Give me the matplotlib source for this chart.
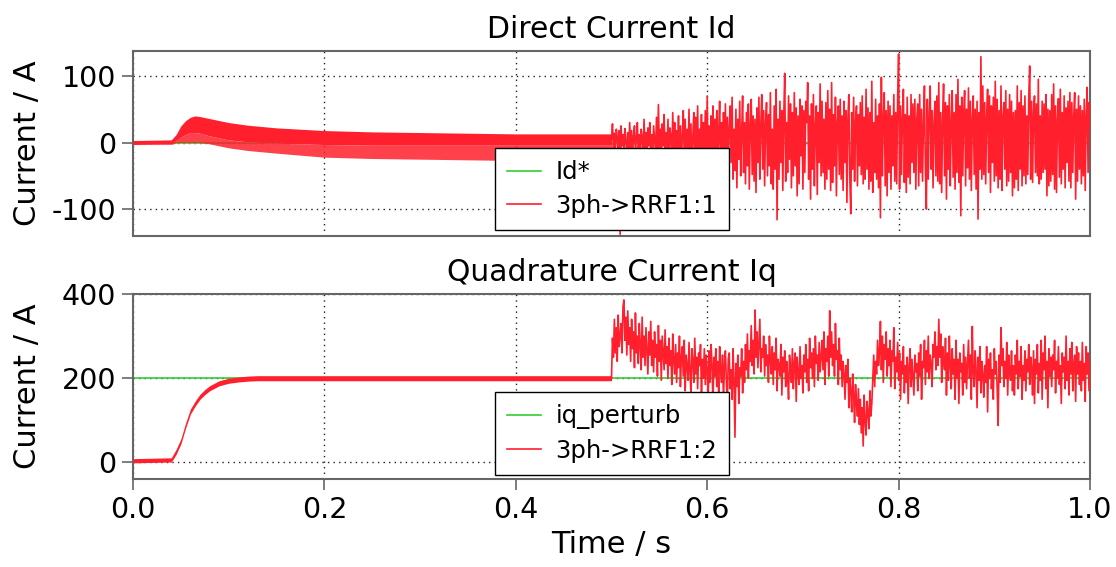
import numpy as np
import matplotlib
matplotlib.use("Agg")
import matplotlib.pyplot as plt

plt.rcParams["axes.unicode_minus"] = False

# ripple envelopes of the currents before the perturbation at t = 0.5 s
t_env_d = [0, 0.04, 0.045, 0.05, 0.055, 0.06, 0.065, 0.07, 0.08, 0.1, 0.12, 0.15, 0.2, 0.25, 0.3, 0.35, 0.4, 0.45, 0.5]
id_upper = [3, 4, 12, 25, 33, 38, 40, 39, 36, 30, 26, 22, 18, 16, 15, 14, 13, 13, 13]
id_mid = [-3, -2, 3, 8, 12, 15, 15, 14, 10, 4, 1, -1, -3, -4, -4, -4, -4, -4, -4]
id_lower = [-3, -3, 0, 0, 0, 0, 0, 0, -2, -8, -12, -16, -22, -24, -25, -26, -27, -27, -27]

t_env_q = [0, 0.04, 0.045, 0.05, 0.055, 0.06, 0.065, 0.07, 0.075, 0.08, 0.09, 0.1, 0.11, 0.12, 0.13, 0.15, 0.5]
iq_upper = [9, 11, 31, 56, 94, 127, 146, 162, 173, 182, 194, 200, 203, 205, 206, 206, 206]
iq_lower = [-1, 1, 19, 44, 82, 115, 134, 150, 161, 170, 182, 188, 191, 193, 194, 194, 194]

# sampled currents after the perturbation, 1 ms step from t = 0.5 s (one row = 10 ms)
id_noisy = [
    5, 28, -10, 14, -18, 20, 8, -12, 18, -138,
    25, -5, 12, -15, 21, 3, -20, 15, -8, 30,
    -12, 18, -22, 10, 25, -15, 5, 30, -20, 12,
    -25, 20, 8, -18, 35, -10, 15, -28, 22, -5,
    30, -20, 12, -32, 25, 5, -15, 38, -25, 57,
    -10, 20, -35, 28, -5, 42, -30, 15, -20, 35,
    -38, 22, 10, -25, 45, -15, 30, -40, 18, -8,
    40, -30, 25, -45, 12, 48, -20, 35, -42, 20,
    -15, 50, -35, 28, -50, 10, 45, -30, 38, -22,
    55, -45, 20, -10, 42, -55, 30, -25, 48, -40,
    70, -35, 25, -50, 40, -15, 55, -60, 35, -28,
    48, -55, 15, 62, -40, 30, -65, 45, -20, 58,
    -45, 38, -60, 25, 55, -30, 68, -55, 20, -42,
    50, -68, 35, -25, 62, -50, 15, 70, -45, 30,
    -62, 45, -35, 58, -70, 28, 65, -48, 40, -58,
    35, -75, 52, -30, 68, -55, 25, 72, -40, 48,
    -65, 30, 60, -50, 42, -35, 75, -62, 20, -70,
    55, -40, 80, -116, 35, -55, 62, -30, 48, -72,
    40, 104, -58, 30, -45, 70, -25, 58, -68, 45,
    -50, 75, -35, 52, -80, 40, -62, 65, -20, 55,
    -70, 48, -45, 62, 30, 90, -55, 40, -85, 58,
    -40, 72, -65, 25, 55, -78, 45, -30, 88, -50,
    62, -45, 35, -70, 60, -55, 78, -40, 50, -72,
    90, -60, 42, -35, 68, -80, 30, 55, -48, 65,
    -55, 40, -72, 62, -30, 48, -90, 35, 72, -50,
    -107, 45, -40, 68, -58, 30, 55, -65, 42, -35,
    60, -48, 70, -62, 38, -55, 80, -40, 52, -70,
    45, -58, 92, -75, 30, -45, 65, -55, 40, -68,
    58, -113, 98, -50, 35, 75, -65, 48, -80, 62,
    -45, 55, -70, 40, -35, 72, -58, 45, -62, 68,
    133, -70, 55, -48, 38, 80, -60, 42, -75, 68,
    -52, 40, -62, 72, -30, 58, -45, 65, -70, 35,
    58, -65, 72, -45, 50, -58, 30, 85, -40, -100,
    65, -55, 40, 85, -40, 48, -68, 30, 62, -50,
    70, -58, 90, -62, 45, -75, 35, 88, -50, 60,
    -85, 55, -40, 72, -65, 30, 78, -52, 45, -70,
    72, -45, 95, -60, 55, -110, 68, -50, 40, 78,
    -65, 50, -38, 82, -55, 62, -72, 35, 70, -48,
    50, -70, 62, -115, 45, -40, 129, -55, 85, -48,
    60, -62, 40, 80, -45, 70, -75, 55, -30, 68,
    -58, 92, -50, 65, -68, 48, -55, 85, -72, 38,
    60, -40, 78, -65, 50, -58, 72, -45, 62, -80,
    45, -68, 48, -55, 85, -72, 60, -40, 78, -65,
    55, -50, 70, -62, 40, -48, 68, 115, -55, 62,
    -60, 45, 70, -45, 58, -50, 95, -62, 40, -55,
    62, -45, 58, -40, 72, -80, 50, -65, 48, -58,
    72, -48, 88, -70, 55, -75, 35, 66, -52, 80,
    -62, 45, -40, 70, -68, 52, -30, 62, -58, 75,
    -68, 60, -45, 40, 75, -85, 50, -58, 70, -40,
    55, -62, 48, -50, 65, -72, 40, 83, -45, 60, 20,
]
iq_noisy = [
    200, 295, 250, 340, 260, 320, 240, 350, 275, 300,
    330, 260, 370, 386, 290, 345, 255, 360, 280, 320,
    240, 340, 270, 310, 225, 355, 260, 300, 235, 330,
    280, 220, 345, 250, 300, 230, 320, 265, 210, 310,
    255, 335, 230, 290, 215, 310, 250, 280, 205, 325,
    240, 290, 195, 300, 260, 220, 315, 235, 275, 200,
    295, 230, 265, 185, 305, 240, 210, 280, 190, 260,
    225, 300, 180, 250, 275, 205, 290, 170, 255, 230,
    195, 285, 215, 165, 270, 240, 190, 295, 210, 250,
    175, 260, 230, 280, 160, 245, 200, 270, 185, 255,
    220, 150, 265, 190, 280, 235, 140, 250, 205, 270,
    180, 240, 160, 275, 215, 190, 255, 145, 230, 265,
    200, 130, 245, 260, 175, 220, 150, 270, 195, 60,
    235, 180, 255, 140, 225, 205, 270, 165, 240, 190,
    280, 220, 305, 200, 265, 240, 325, 230, 290, 210,
    362, 250, 310, 225, 285, 340, 215, 270, 250, 300,
    205, 280, 230, 255, 190, 300, 240, 210, 275, 185,
    260, 220, 295, 170, 245, 230, 205, 280, 160, 250,
    215, 265, 180, 240, 205, 150, 255, 225, 190, 270,
    175, 235, 260, 145, 250, 210, 185, 275, 200, 230,
    165, 255, 215, 280, 190, 245, 170, 295, 225, 260,
    200, 270, 180, 300, 235, 255, 195, 285, 215, 250,
    290, 220, 310, 185, 270, 240, 300, 205, 360, 250,
    310, 230, 280, 205, 330, 245, 265, 185, 295, 220,
    255, 180, 240, 210, 150, 230, 190, 245, 130, 200,
    170, 120, 210, 160, 95, 185, 140, 110, 175, 90,
    150, 70, 130, 39, 160, 100, 65, 145, 120, 80,
    170, 110, 140, 195, 255, 180, 240, 210, 290, 230,
    260, 335, 220, 300, 190, 280, 245, 310, 205, 270,
    230, 290, 180, 265, 240, 320, 175, 250, 215, 285,
    195, 260, 150, 240, 210, 275, 165, 230, 190, 250,
    140, 225, 270, 180, 245, 200, 160, 255, 215, 235,
    170, 260, 205, 280, 150, 240, 225, 290, 185, 265,
    215, 300, 200, 255, 235, 180, 280, 250, 310, 220,
    275, 230, 340, 250, 305, 190, 275, 240, 220, 295,
    160, 260, 195, 300, 230, 175, 270, 210, 245, 150,
    290, 200, 245, 140, 260, 215, 235, 160, 280, 190,
    250, 175, 230, 290, 200, 255, 150, 323, 215, 180,
    265, 220, 130, 250, 195, 275, 165, 240, 210, 155,
    230, 190, 275, 120, 245, 200, 260, 175, 220, 150,
    270, 210, 240, 175, 88, 255, 190, 320, 230, 270,
    180, 240, 200, 285, 160, 255, 215, 195, 265, 170,
    230, 160, 255, 210, 290, 175, 240, 205, 275, 150,
    230, 195, 265, 170, 245, 215, 280, 185, 250, 225,
    160, 265, 140, 245, 210, 280, 165, 235, 195, 290,
    150, 260, 220, 300, 175, 240, 130, 270, 205, 250,
    180, 255, 220, 290, 165, 240, 200, 275, 185, 230,
    140, 260, 215, 250, 175, 300, 195, 240, 160, 270,
    210, 285, 170, 235, 255, 145, 275, 210, 260, 185,
    240, 170, 285, 195, 235, 145, 275, 210, 260, 170, 240,
]

id_ref = 0
iq_ref = 200
x_ticks = [0.0, 0.2, 0.4, 0.6, 0.8, 1.0]

RED = "#ff1f2d"
GREEN = "#33cc33"
SPINE = "#666666"

t_d = np.linspace(0.5, 1.0, len(id_noisy))
t_q = np.linspace(0.5, 1.0, len(iq_noisy))

fig = plt.figure(figsize=(11.16, 5.67), dpi=100)
ax1 = fig.add_axes([0.1192, 0.5843, 0.8575, 0.3263])
ax2 = fig.add_axes([0.1192, 0.1547, 0.8575, 0.3268])


def style_axes(ax, title, ylim, yticks):
    ax.set_xlim(0, 1)
    ax.set_ylim(*ylim)
    ax.set_yticks(yticks)
    ax.set_xticks(x_ticks)
    ax.set_title(title, fontsize=21.5, pad=9)
    ax.set_ylabel("Current / A", fontsize=22)
    ax.yaxis.set_label_coords(-0.095, 0.5)
    ax.grid(True, color="#222222", linestyle=(0, (1, 3)), linewidth=1.0)
    ax.tick_params(axis="both", labelsize=20.5, length=8, width=1.2,
                   color=SPINE, direction="out", pad=4)
    for sp in ax.spines.values():
        sp.set_color(SPINE)
        sp.set_linewidth(1.5)


# direct current
ax1.plot([0, 1], [id_ref, id_ref], color=GREEN, lw=1.2, label="Id*", zorder=2)
ax1.fill_between(t_env_d, id_mid, id_upper, color=RED, lw=0, zorder=3)
ax1.fill_between(t_env_d, id_lower, id_mid, color=RED, alpha=0.85, lw=0, zorder=3)
ax1.plot(t_d, id_noisy, color=RED, lw=1.2, zorder=3, label="3ph->RRF1:1")
style_axes(ax1, "Direct Current Id", (-140, 138), [-100, 0, 100])
ax1.tick_params(axis="x", labelbottom=False, length=0)

# quadrature current
ax2.plot([0, 1], [iq_ref, iq_ref], color=GREEN, lw=1.2, label="iq_perturb", zorder=2)
ax2.fill_between(t_env_q, iq_lower, iq_upper, color=RED, lw=0, zorder=3)
ax2.plot(t_q, iq_noisy, color=RED, lw=1.2, zorder=3, label="3ph->RRF1:2")
style_axes(ax2, "Quadrature Current Iq", (-40, 400), [0, 200, 400])
ax2.set_xticklabels(["0.0", "0.2", "0.4", "0.6", "0.8", "1.0"])
ax2.set_xlabel("Time / s", fontsize=22, labelpad=4)

for ax, anchor in ((ax1, (0.378, 0.031)), (ax2, (0.378, 0.023))):
    leg = ax.legend(loc="lower left", bbox_to_anchor=anchor, borderaxespad=0,
                    fontsize=17.5, frameon=True, fancybox=False, framealpha=1,
                    edgecolor="black", handlelength=1.4, handletextpad=0.6,
                    labelspacing=0.4, borderpad=0.5)
    leg.get_frame().set_linewidth(1.0)
    for line in leg.get_lines():
        line.set_linewidth(1.2)
    leg.set_zorder(10)

fig.savefig("out.png", dpi=100)
